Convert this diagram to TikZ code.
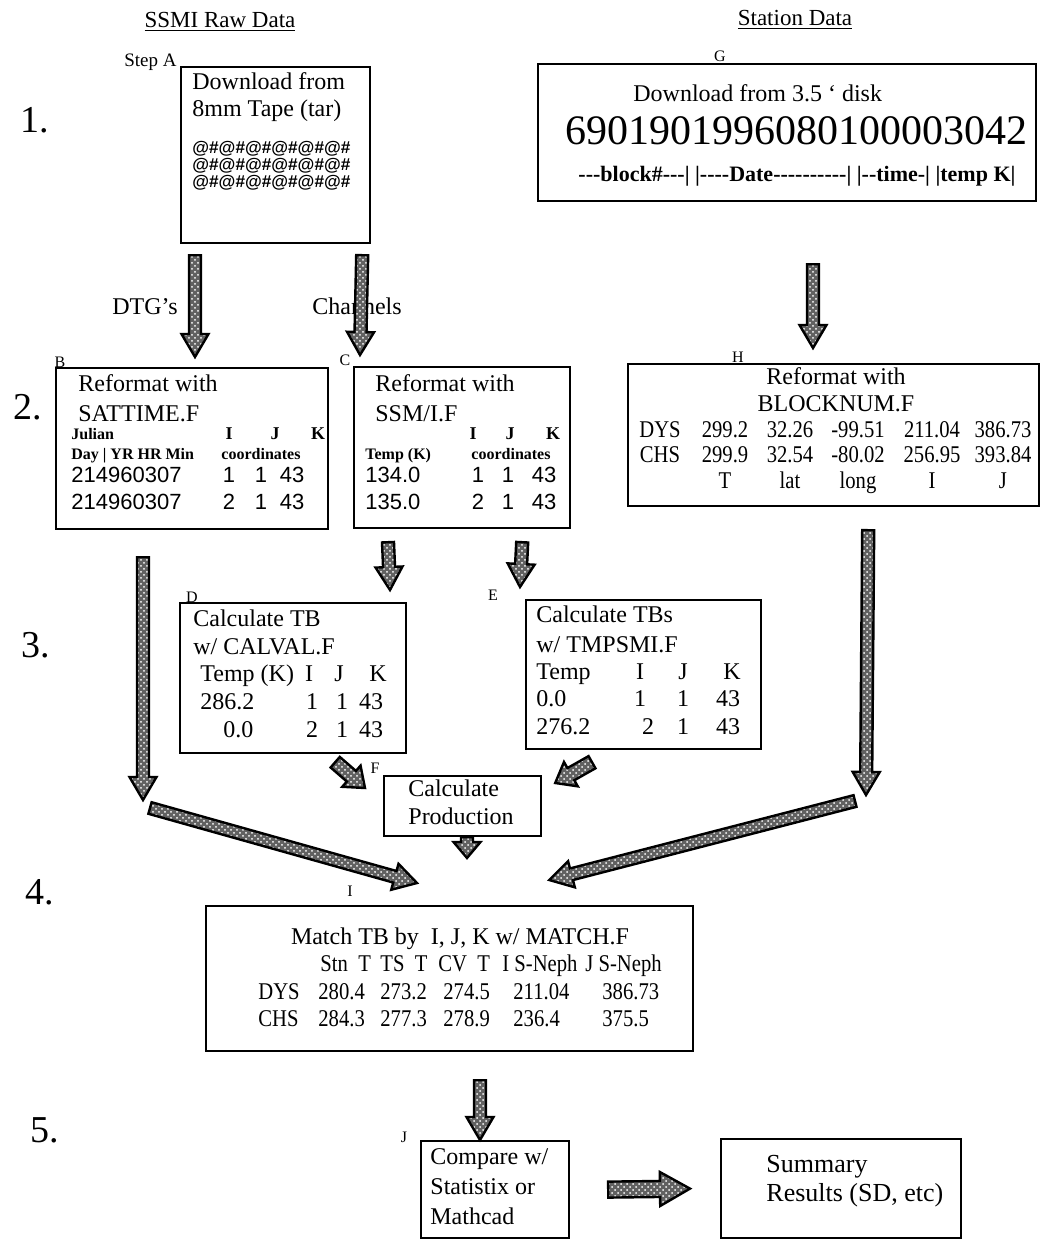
\documentclass[tikz,border=0pt]{standalone}
\usepackage{fontspec}
\setmainfont{Liberation Serif}
\newfontfamily\numsans{Liberation Sans}
\newfontfamily\narrowserif[FakeStretch=0.86]{Liberation Serif}
\newfontfamily\rawserif[Ligatures=TeXOff]{Liberation Serif}
\usetikzlibrary{calc,patterns}

\tikzset{
  stepbox/.style={draw, line width=1.1pt, anchor=north west, inner sep=0pt},
  body/.style={anchor=mid west, inner sep=0pt, font=\fontsize{12}{14}\selectfont},
  cbody/.style={body, anchor=mid},
  tablecell/.style={anchor=mid, inner sep=0pt, font=\narrowserif\fontsize{12}{14}\selectfont},
  tablerow/.style={tablecell, anchor=mid west},
  numcell/.style={anchor=mid, inner sep=0pt, font=\numsans\fontsize{11}{13}\selectfont},
  numrow/.style={numcell, anchor=mid west},
  smallbold/.style={anchor=mid, inner sep=0pt, font=\bfseries\fontsize{8}{9}\selectfont},
  tag/.style={inner sep=0pt, font=\fontsize{8}{9}\selectfont},
  stagenum/.style={inner sep=0pt, font=\fontsize{19}{21}\selectfont},
  headtext/.style={inner sep=0pt, font=\fontsize{11.5}{13}\selectfont},
  blockarrow/.style={draw=black, line width=1.2pt, preaction={fill=black!62}, pattern=crosshatch dots, pattern color=white},
}

% fat hatched arrow between two points
\newcommand{\arrowshaft}{3pt}
\newcommand{\arrowhead}{6.75pt}
\newcommand{\arrowlen}{11.5pt}
\newcommand{\fatarrow}[2]{%
  \coordinate (fa-s) at (#1);
  \coordinate (fa-e) at (#2);
  \coordinate (fa-m) at ($(fa-e)!\arrowlen!(fa-s)$);
  \path[blockarrow] ($(fa-s)!\arrowshaft!90:(fa-e)$) -- ($(fa-m)!\arrowshaft!90:(fa-e)$)
    -- ($(fa-m)!\arrowhead!90:(fa-e)$) -- (fa-e) -- ($(fa-m)!\arrowhead!-90:(fa-e)$)
    -- ($(fa-m)!\arrowshaft!-90:(fa-e)$) -- ($(fa-s)!\arrowshaft!-90:(fa-e)$) -- cycle;
}

\begin{document}
\begin{tikzpicture}[x=0.5pt, y=-0.5pt]
\useasboundingbox (0,0) rectangle (1045,1247);

% Column heads and stage numbers
\node[headtext] (rawhead) at (220,22) {\underline{SSMI Raw Data}};
\node[headtext] (stationhead) at (795,20) {\underline{Station Data}};
\foreach \n/\x/\y in {1/35/120, 2/28/407, 3/36/645, 4/40/892, 5/45/1130}
  \node[stagenum] (stage\n) at (\x,\y) {\n.};

% Step A: tape
\node[stepbox, minimum width=94.5pt, minimum height=88pt] (tape) at (180,66) {};
\node[tag, anchor=mid east, font=\fontsize{9.5}{11}\selectfont] (tapetag) at (177,62) {Step A};
\node[body] (tape1) at (192,85) {Download from};
\node[body] (tape2) at (192,112) {8mm Tape (tar)};
\foreach \y in {149,166,183}
  \node[body, font=\numsans\bfseries\fontsize{8.6}{9}\selectfont] (bytes\y) at (192,\y) {@\#@\#@\#@\#@\#@\#};

% Step G: disk
\node[stepbox, minimum width=249pt, minimum height=68.5pt] (disk) at (537,63) {};
\node[tag] (disktag) at (720,56) {G};
\node[body] (disk1) at (633,97) {Download from 3.5 ‘ disk};
\node[cbody, font=\fontsize{21}{24}\selectfont] (diskrec) at (796,140) {6901901996080100003042};
\node[cbody, font=\rawserif\bfseries\fontsize{11}{13}\selectfont] (diskfields) at (797,177) {---block\#---| |----Date----------| |--time-| |temp K|};

% Arrow labels
\node[cbody] (dtg) at (145,310) {DTG's};
\node[cbody] (chan) at (357,310) {Channels};

% Step B: SATTIME
\node[stepbox, minimum width=136pt, minimum height=80.5pt] (sattime) at (55,367) {};
\node[tag] (sattag) at (60,362) {B};
\node[body] (sat1) at (78,387) {Reformat with};
\node[body] (sat2) at (78,417) {SATTIME.F};
\node[smallbold, anchor=mid west] (satjul) at (71,435) {Julian};
\node[smallbold, anchor=mid west] (satday) at (71,455) {Day | YR HR Min};
\node[smallbold] (satcoord) at (261,455) {coordinates};
\foreach \x/\t in {229/I, 275/J, 318/K}
  \node[smallbold, font=\bfseries\fontsize{9}{10}\selectfont] (sath\t) at (\x,435) {\t};
\node[numrow] (satr1) at (71,478) {214960307};
\node[numrow] (satr2) at (71,505) {214960307};
\foreach \x/\a/\b in {229/1/2, 261/1/1, 292/43/43} {
  \node[numcell] (sata\x) at (\x,478) {\a};
  \node[numcell] (satb\x) at (\x,505) {\b};
}

% Step C: SSM/I
\node[stepbox, minimum width=108pt, minimum height=80.5pt] (ssmi) at (353,366) {};
\node[tag] (ssmitag) at (345,360) {C};
\node[body] (ssmi1) at (375,387) {Reformat with};
\node[body] (ssmi2) at (375,417) {SSM/I.F};
\foreach \x/\t in {473/I, 510/J, 553/K}
  \node[smallbold, font=\bfseries\fontsize{9}{10}\selectfont] (ssmih\t) at (\x,435) {\t};
\node[smallbold, anchor=mid west] (ssmitemp) at (365,455) {Temp (K)};
\node[smallbold] (ssmicoord) at (511,455) {coordinates};
\node[numrow] (ssmir1) at (365,478) {134.0};
\node[numrow] (ssmir2) at (365,505) {135.0};
\foreach \x/\a/\b in {478/1/2, 508/1/1, 544/43/43} {
  \node[numcell] (ssmia\x) at (\x,478) {\a};
  \node[numcell] (ssmib\x) at (\x,505) {\b};
}

% Step H: BLOCKNUM
\node[stepbox, minimum width=205.5pt, minimum height=71pt] (blocknum) at (627,363) {};
\node[tag] (blocktag) at (738,357) {H};
\node[cbody] (block1) at (836,380) {Reformat with};
\node[cbody] (block2) at (836,407) {BLOCKNUM.F};
\foreach \x/\a/\b/\c in {660/DYS/CHS/, 725/299.2/299.9/T, 790/32.26/32.54/lat, 858/-99.51/-80.02/long, 932/211.04/256.95/I, 1003/386.73/393.84/J} {
  \node[tablecell] (blocka\x) at (\x,433) {\a};
  \node[tablecell] (blockb\x) at (\x,458) {\b};
  \node[tablecell] (blockc\x) at (\x,484) {\c};
}

% Step D: CALVAL
\node[stepbox, minimum width=113pt, minimum height=75pt] (calval) at (179,602) {};
\node[tag] (caltag) at (192,597) {D};
\node[body] (cal1) at (193,622) {Calculate TB};
\node[body] (cal2) at (193,650) {w/ CALVAL.F};
\node[body] (caltemp) at (200,677) {Temp (K)};
\foreach \x/\t in {309/I, 339/J, 378/K}
  \node[cbody] (calh\t) at (\x,677) {\t};
\node[body] (calr1) at (200,705) {286.2};
\node[body] (calr2) at (223,733) {0.0};
\foreach \x/\a/\b in {312/1/2, 342/1/1, 371/43/43} {
  \node[cbody] (cala\x) at (\x,705) {\a};
  \node[cbody] (calb\x) at (\x,733) {\b};
}

% Step E: TMPSMI
\node[stepbox, minimum width=117.5pt, minimum height=74.5pt] (tmpsmi) at (525,599) {};
\node[tag] (tmptag) at (493,595) {E};
\node[body] (tmp1) at (536,618) {Calculate TBs};
\node[body] (tmp2) at (536,648) {w/ TMPSMI.F};
\node[body] (tmptemp) at (536,675) {Temp};
\foreach \x/\t in {640/I, 683/J, 732/K}
  \node[cbody] (tmph\t) at (\x,675) {\t};
\node[body] (tmpr1) at (536,702) {0.0};
\node[body] (tmpr2) at (536,730) {276.2};
\foreach \x/\t in {640/1, 683/1, 728/43}
  \node[cbody] (tmpa\x) at (\x,702) {\t};
\foreach \x/\t in {648/2, 683/1, 728/43}
  \node[cbody] (tmpb\x) at (\x,730) {\t};

% Step F: production
\node[stepbox, minimum width=78.5pt, minimum height=30pt] (production) at (383,775) {};
\node[tag] (prodtag) at (375,768) {F};
\node[body] (prod1) at (408,792) {Calculate};
\node[body] (prod2) at (408,820) {Production};

% Step I: match
\node[stepbox, minimum width=243.5pt, minimum height=72.5pt] (match) at (205,905) {};
\node[tag] (matchtag) at (350,891) {I};
\node[cbody] (match1) at (460,940) {Match TB by\ \ I, J, K w/ MATCH.F};
\foreach \x/\t in {320/Stn\ \ T, 380/TS\ \ T, 438/CV\ \ T, 502/I S-Neph, 585/J S-Neph}
  \node[tablerow] (matchh\x) at (\x,967) {\t};
\foreach \x/\a/\b in {258/DYS/CHS, 318/280.4/284.3, 380/273.2/277.3, 443/274.5/278.9, 513/211.04/236.4, 602/386.73/375.5} {
  \node[tablerow] (matcha\x) at (\x,995) {\a};
  \node[tablerow] (matchb\x) at (\x,1022) {\b};
}

% Step J and summary
\node[stepbox, minimum width=74pt, minimum height=48.5pt] (compare) at (420,1140) {};
\node[tag] (comptag) at (404,1137) {J};
\node[body] (comp1) at (430,1160) {Compare w/};
\node[body] (comp2) at (430,1190) {Statistix or};
\node[body] (comp3) at (430,1220) {Mathcad};
\node[stepbox, minimum width=120pt, minimum height=49.5pt] (summary) at (720,1138) {};
\node[body, font=\fontsize{13}{15}\selectfont] (sum1) at (766,1168) {Summary};
\node[body, font=\fontsize{13}{15}\selectfont] (sum2) at (766,1197) {Results (SD, etc)};

% Block arrows
\fatarrow{$(tape.south west)+(15,11)$}{$(sattime.north west)+(140,-10)$}
\fatarrow{$(tape.south east)+(-9,11)$}{$(ssmi.north west)+(7,-11)$}
\fatarrow{$(disk.south west)+(276,62)$}{$(blocknum.north west)+(186,-15)$}
\fatarrow{$(ssmi.south west)+(35,13)$}{$(calval.north west)+(211,-12)$}
\fatarrow{$(ssmi.south east)+(-49,13)$}{$(tmpsmi.north west)+(-5,-12)$}

\coordinate (lturn) at (143,800);
\coordinate (lstart) at (150,808);
\fatarrow{$(sattime.south west)+(88,27)$}{lturn}
\fatarrow{lstart}{$(match.north west)+(212,-22)$}

\coordinate (rturn) at (866,795);
\coordinate (rstart) at (855,801);
\fatarrow{$(blocknum.south east)+(-172,23)$}{rturn}
\fatarrow{rstart}{$(match.north east)+(-145,-25)$}

{\renewcommand{\arrowshaft}{3.5pt}\renewcommand{\arrowhead}{7pt}\renewcommand{\arrowlen}{9pt}
\fatarrow{$(calval.south east)+(-72,8)$}{$(production.north west)+(-18,13)$}
\fatarrow{$(tmpsmi.south west)+(67,12)$}{$(production.north east)+(13,8)$}
}
{\renewcommand{\arrowlen}{8pt}
\fatarrow{$(production.south west)+(84,0)$}{$(match.north west)+(262,-47)$}
}
\fatarrow{$(match.south west)+(275,28)$}{$(compare.north west)+(60,0)$}
{\renewcommand{\arrowshaft}{4pt}\renewcommand{\arrowhead}{8.5pt}\renewcommand{\arrowlen}{15pt}
\fatarrow{$(compare.east)+(38,0)$}{$(summary.west)+(-30,0)$}
}

\end{tikzpicture}
\end{document}
